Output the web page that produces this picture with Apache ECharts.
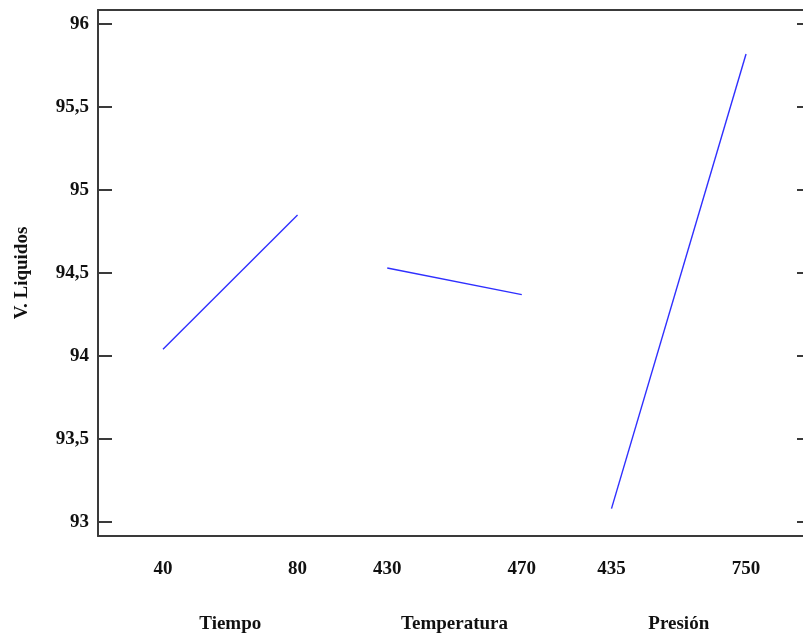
<!DOCTYPE html>
<html>
<head>
<meta charset="utf-8">
<script src="https://cdn.jsdelivr.net/npm/echarts@6/dist/echarts.min.js"></script>
<style>
  html, body { margin: 0; padding: 0; background: #fff; }
  #chart { width: 803px; height: 634px; }
</style>
</head>
<body>
<div id="chart"></div>
<script>
// Main effects on V. Liquidos: mean response at low / high level of each factor
const factorNames = ['Tiempo', 'Temperatura', 'Presión'];
const tiempoLevels = ['40', '80'];
const tiempoMeans = [94.04, 94.85];
const temperaturaLevels = ['430', '470'];
const temperaturaMeans = [94.53, 94.37];
const presionLevels = ['435', '750'];
const presionMeans = [93.08, 95.82];
const yTickValues = [93, 93.5, 94, 94.5, 95, 95.5, 96];

const factors = [
  { levels: tiempoLevels, means: tiempoMeans },
  { levels: temperaturaLevels, means: temperaturaMeans },
  { levels: presionLevels, means: presionMeans }
];

// Each factor occupies its own panel along a shared x scale:
// panel g starts at g * GROUP_STEP, the two levels are LEVEL_STEP apart.
const GROUP_STEP = 5;
const LEVEL_STEP = 3;
const slotOf = (g, l) => g * GROUP_STEP + l * LEVEL_STEP;

const levelSlots = [];
const levelText = {};
const groupSlots = [];
const groupText = {};
factors.forEach((f, g) => {
  f.levels.forEach((lv, l) => {
    const s = slotOf(g, l);
    levelSlots.push(s);
    levelText[s] = lv;
  });
  const c = (slotOf(g, 0) + slotOf(g, 1)) / 2;
  groupSlots.push(c);
  groupText[c] = factorNames[g];
});

const FONT = 'Liberation Serif';
const AXIS_COLOR = '#3a3a3a';
const LINE_COLOR = '#2f2fff';
const X_MIN = -1.449;
const X_MAX = 14.27;
const Y_MIN = 92.915;
const Y_MAX = 96.085;

const chart = echarts.init(document.getElementById('chart'), null, { renderer: 'canvas' });

const xBase = {
  type: 'value',
  min: X_MIN,
  max: X_MAX,
  splitLine: { show: false },
  axisTick: { show: false }
};
const labelFont = { fontFamily: FONT, fontWeight: 'bold', fontSize: 19, color: '#111' };

chart.setOption({
  animation: false,
  backgroundColor: '#ffffff',
  grid: { left: 98, top: 10, right: 0, bottom: 95, show: false, containLabel: false },
  xAxis: [
    Object.assign({}, xBase, {
      position: 'bottom',
      axisLine: { show: true, onZero: false, lineStyle: { color: AXIS_COLOR, width: 2 } },
      axisLabel: Object.assign({
        customValues: levelSlots,
        formatter: v => levelText[v] ?? '',
        margin: 24
      }, labelFont)
    }),
    Object.assign({}, xBase, {
      position: 'bottom',
      axisLine: { show: false, onZero: false },
      axisLabel: Object.assign({
        customValues: groupSlots,
        formatter: v => groupText[v] ?? '',
        margin: 79
      }, labelFont)
    }),
    Object.assign({}, xBase, {
      position: 'top',
      axisLine: { show: true, onZero: false, lineStyle: { color: AXIS_COLOR, width: 2 } },
      axisLabel: { show: false }
    })
  ],
  yAxis: [
    {
      type: 'value',
      min: Y_MIN,
      max: Y_MAX,
      position: 'left',
      name: 'V. Liquidos',
      nameLocation: 'middle',
      nameRotate: 90,
      nameGap: 66,
      nameTextStyle: labelFont,
      splitLine: { show: false },
      axisLine: { show: true, onZero: false, lineStyle: { color: AXIS_COLOR, width: 2 } },
      axisTick: {
        show: true, inside: true, length: 14,
        customValues: yTickValues,
        lineStyle: { color: AXIS_COLOR, width: 2 }
      },
      axisLabel: Object.assign({
        customValues: yTickValues,
        formatter: v => String(v).replace('.', ','),
        margin: 9
      }, labelFont)
    },
    {
      type: 'value',
      min: Y_MIN,
      max: Y_MAX,
      position: 'right',
      splitLine: { show: false },
      axisLine: { show: false, onZero: false },
      axisTick: {
        show: true, inside: true, length: 6,
        customValues: yTickValues,
        lineStyle: { color: AXIS_COLOR, width: 2 }
      },
      axisLabel: { show: false }
    }
  ],
  series: factors.map((f, g) => ({
    type: 'line',
    name: factorNames[g],
    xAxisIndex: 0,
    yAxisIndex: 0,
    showSymbol: false,
    symbol: 'none',
    lineStyle: { color: LINE_COLOR, width: 1.4 },
    data: f.means.map((m, l) => [slotOf(g, l), m])
  }))
});
</script>
</body>
</html>
